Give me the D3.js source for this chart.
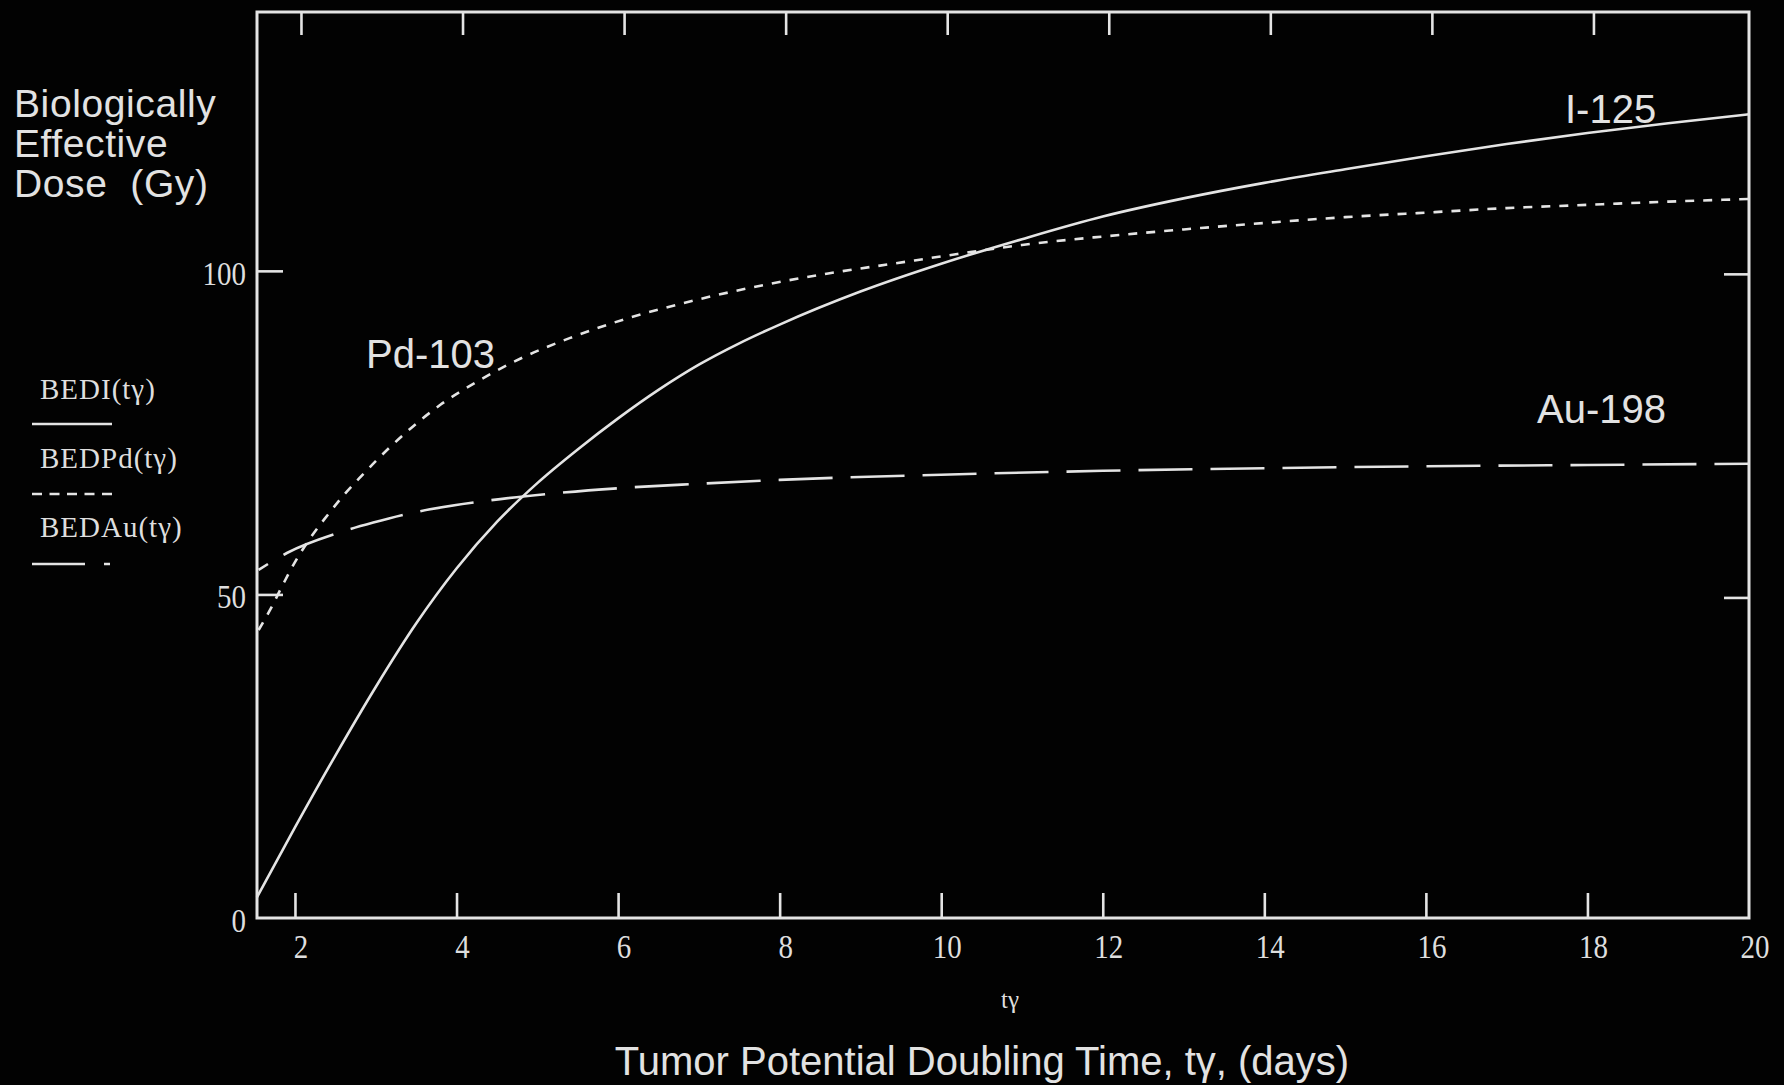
<!DOCTYPE html>
<html>
<head>
<meta charset="utf-8">
<script src="https://cdn.jsdelivr.net/npm/d3@7"></script>
<style>
  body { margin: 0; background: #020202; }
  svg { display: block; }
  .serif { font-family: 'Liberation Serif', 'Times New Roman', serif; fill: #dedede; }
  .sans { font-family: 'Liberation Sans', Arial, sans-serif; fill: #e2e2e2; }
</style>
</head>
<body>
<div id="graf"></div>
<script>
// valores
const xTicks = [2, 4, 6, 8, 10, 12, 14, 16, 18, 20]
const yTicks = [0, 50, 100]

const tI = [1.53, 2, 2.5, 3, 3.5, 4, 4.5, 5, 5.5, 6, 6.5, 7, 7.5, 8, 9, 10, 11, 12, 13, 14, 15, 16, 17, 18, 19, 20]
const bedI = [3.2, 14.0, 25.1, 35.7, 45.5, 54.0, 61.2, 67.2, 72.4, 77.2, 81.6, 85.5, 88.8, 91.7, 96.8, 101.1, 104.9, 108.4, 111.2, 113.6, 115.7, 117.7, 119.6, 121.3, 122.8, 124.2]

const tPd = [1.55, 1.7, 1.85, 2, 2.2, 2.4, 2.6, 2.8, 3, 3.4, 3.8, 4.3, 4.8, 5.4, 6.1, 6.9, 7.8, 8.6, 9.4, 10.2, 11, 12, 13, 14, 15, 16, 17, 18, 19, 20]
const bedPd = [44.5, 47.8, 51.5, 55.0, 58.9, 62.2, 65.3, 68.0, 70.6, 75.3, 79.3, 83.2, 86.5, 89.6, 92.6, 95.3, 97.8, 99.6, 101.1, 102.6, 104.0, 105.3, 106.4, 107.4, 108.3, 109.0, 109.7, 110.2, 110.7, 111.1]

const tAu = [1.55, 1.9, 2.56, 2.97, 3.45, 4.33, 5.19, 6.11, 7, 8, 10, 12, 14, 16, 18, 20]
const bedAu = [53.8, 56.4, 59.6, 61.1, 62.6, 64.4, 65.6, 66.5, 67.1, 67.7, 68.5, 69.1, 69.5, 69.8, 70.0, 70.2]

const series = [
  { nombre: 'BEDI(tγ)', t: tI, v: bedI, dash: null, offset: 0 },
  { nombre: 'BEDPd(tγ)', t: tPd, v: bedPd, dash: '9,9', offset: 0 },
  { nombre: 'BEDAu(tγ)', t: tAu, v: bedAu, dash: '54,18', offset: 43 },
]

const anchoTotal = 1784
const altoTotal = 1085
const colorLinea = '#e4e4e4'

const svg = d3
  .select('#graf')
  .append('svg')
  .attr('width', anchoTotal)
  .attr('height', altoTotal)

svg.append('rect')
  .attr('width', anchoTotal)
  .attr('height', altoTotal)
  .attr('fill', '#020202')

const x = d3.scaleLinear().domain([1.53, 20]).range([257, 1749])
const y = d3.scaleLinear().domain([0, 140]).range([918, 12])

// marco
svg.append('rect')
  .attr('x', x(1.53))
  .attr('y', y(140))
  .attr('width', x(20) - x(1.53))
  .attr('height', y(0) - y(140))
  .attr('fill', 'none')
  .attr('stroke', colorLinea)
  .attr('stroke-width', 3)

const interiores = xTicks.filter((d) => d < 20)

// ticks hacia adentro
svg.append('g')
  .attr('transform', `translate(0, ${y(0)})`)
  .call(d3.axisBottom(x).tickValues(interiores).tickSize(-25).tickSizeOuter(0).tickFormat(''))
svg.append('g')
  .attr('transform', `translate(6, ${y(140)})`)
  .call(d3.axisTop(x).tickValues(interiores).tickSize(-23).tickSizeOuter(0).tickFormat(''))
svg.append('g')
  .attr('transform', `translate(${x(1.53)}, 0)`)
  .call(d3.axisLeft(y).tickValues(yTicks.filter((d) => d > 0)).tickSize(-26).tickSizeOuter(0).tickFormat(''))
svg.append('g')
  .attr('transform', `translate(${x(20)}, 3)`)
  .call(d3.axisRight(y).tickValues(yTicks.filter((d) => d > 0)).tickSize(-25).tickSizeOuter(0).tickFormat(''))

svg.selectAll('.domain').remove()
svg.selectAll('.tick line')
  .attr('stroke', colorLinea)
  .attr('stroke-width', 2.6)

// etiquetas de los ejes
svg.append('g')
  .selectAll('g')
  .data(xTicks)
  .join('g')
  .attr('transform', (d) => `translate(${x(d) + 6}, 958) scale(1, 1.15)`)
  .append('text')
  .attr('class', 'serif')
  .attr('text-anchor', 'middle')
  .attr('font-size', 29)
  .text((d) => d)

svg.append('g')
  .selectAll('g')
  .data(yTicks)
  .join('g')
  .attr('transform', (d) => `translate(246, ${y(d) + 14}) scale(1, 1.15)`)
  .append('text')
  .attr('class', 'serif')
  .attr('text-anchor', 'end')
  .attr('font-size', 29)
  .text((d) => d)

// curvas
const linea = d3
  .line()
  .x((d) => x(d[0]))
  .y((d) => y(d[1]))
  .curve(d3.curveMonotoneX)

series.forEach((s) => {
  svg.append('path')
    .datum(d3.zip(s.t, s.v))
    .attr('d', linea)
    .attr('fill', 'none')
    .attr('stroke', colorLinea)
    .attr('stroke-width', 2.6)
    .attr('stroke-dasharray', s.dash)
    .attr('stroke-dashoffset', s.offset)
})

// etiquetas de las curvas
const etiquetas = [
  { txt: 'I-125', x: 1565, y: 123 },
  { txt: 'Pd-103', x: 366, y: 368 },
  { txt: 'Au-198', x: 1537, y: 423 },
]
svg.append('g')
  .selectAll('text')
  .data(etiquetas)
  .join('text')
  .attr('class', 'sans')
  .attr('x', (d) => d.x)
  .attr('y', (d) => d.y)
  .attr('font-size', 40)
  .text((d) => d.txt)

// titulo eje y
const tituloY = ['Biologically', 'Effective', 'Dose  (Gy)']
svg.append('g')
  .selectAll('text')
  .data(tituloY)
  .join('text')
  .attr('class', 'sans')
  .attr('x', 14)
  .attr('y', (d, i) => 117 + i * 40)
  .attr('font-size', 39)
  .attr('letter-spacing', 0.6)
  .style('white-space', 'pre')
  .text((d) => d)

// leyenda
const leyenda = svg.append('g')
series.forEach((s, i) => {
  leyenda.append('text')
    .attr('class', 'serif')
    .attr('x', 40)
    .attr('y', 399 + i * 69)
    .attr('font-size', 29)
    .attr('letter-spacing', 1)
    .text(s.nombre)
  leyenda.append('line')
    .attr('x1', 32)
    .attr('x2', 112)
    .attr('y1', 424 + i * 70)
    .attr('y2', 424 + i * 70)
    .attr('stroke', colorLinea)
    .attr('stroke-width', 2.6)
    .attr('stroke-dasharray', i === 0 ? null : i === 1 ? '10,7.5' : '53,19,6,100')
})

// titulo eje x
svg.append('text')
  .attr('class', 'serif')
  .attr('x', 1010)
  .attr('y', 1008)
  .attr('text-anchor', 'middle')
  .attr('font-size', 25)
  .text('tγ')

svg.append('text')
  .attr('class', 'sans')
  .attr('x', 982)
  .attr('y', 1075)
  .attr('text-anchor', 'middle')
  .attr('font-size', 40)
  .text('Tumor Potential Doubling Time, tγ, (days)')
</script>
</body>
</html>
